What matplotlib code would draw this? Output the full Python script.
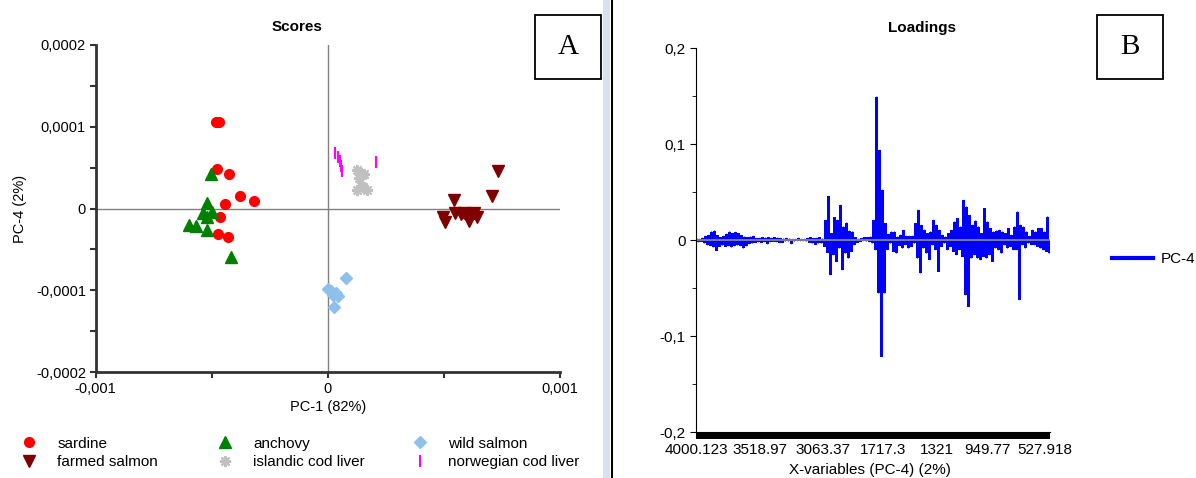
import numpy as np
import matplotlib.pyplot as plt
from matplotlib.patches import Rectangle

plt.rcParams['font.family'] = ['Liberation Sans', 'DejaVu Sans']

# ---- Scores (PC-1 vs PC-4) ----
sardine_pc1 = [-0.000483, -0.000470, -0.000478, -0.000427, -0.000379, -0.000319, -0.000444, -0.000466, -0.000474, -0.000431]
sardine_pc4 = [1.052e-4, 1.052e-4, 0.489e-4, 0.416e-4, 0.147e-4, 0.086e-4, 0.049e-4, -0.110e-4, -0.306e-4, -0.343e-4]

farmed_pc1 = [0.000733, 0.000707, 0.000543, 0.000496, 0.000504, 0.000547, 0.000573, 0.000603, 0.000608, 0.000629, 0.000642, 0.000586]
farmed_pc4 = [0.453e-4, 0.159e-4, 0.098e-4, -0.098e-4, -0.171e-4, -0.049e-4, -0.073e-4, -0.073e-4, -0.159e-4, -0.049e-4, -0.110e-4, -0.049e-4]

anchovy_pc1 = [-0.000504, -0.000522, -0.000539, -0.000522, -0.000500, -0.000599, -0.000569, -0.000522, -0.000418]
anchovy_pc4 = [0.416e-4, 0.073e-4, -0.049e-4, -0.098e-4, -0.037e-4, -0.196e-4, -0.220e-4, -0.257e-4, -0.599e-4]

islandic_pc1 = [0.000125, 0.000142, 0.000155, 0.000134, 0.000147, 0.000125, 0.000151, 0.000168, 0.000142]
islandic_pc4 = [0.465e-4, 0.440e-4, 0.428e-4, 0.379e-4, 0.404e-4, 0.232e-4, 0.257e-4, 0.232e-4, 0.281e-4]

wild_pc1 = [0.0000776, 0.0, 0.0000129, 0.0000216, 0.0000431, 0.0000259, 0.0000345]
wild_pc4 = [-0.856e-4, -0.979e-4, -1.015e-4, -1.052e-4, -1.076e-4, -1.199e-4, -1.028e-4]

norwegian_pc1 = [0.000030, 0.000043, 0.000052, 0.000056, 0.000060, 0.000207]
norwegian_pc4 = [0.685e-4, 0.636e-4, 0.575e-4, 0.514e-4, 0.453e-4, 0.563e-4]

score_xticks = [-0.001, 0, 0.001]
score_xticklabels = ['-0,001', '0', '0,001']
score_yticks = [-0.0002, -0.0001, 0, 0.0001, 0.0002]
score_yticklabels = ['-0,0002', '-0,0001', '0', '0,0001', '0,0002']

# ---- Loadings PC-4 (upper / lower envelope per group of variables) ----
pc4_upper = [
    0.0014, 0.0010, 0.0021, 0.0042, 0.0049, 0.0087, 0.0097, 0.0049, 0.0028, 0.0042,
    0.0062, 0.0087, 0.0069, 0.0083, 0.0069, 0.0049, 0.0035, 0.0028, 0.0035, 0.0042,
    0.0017, 0.0021, 0.0028, 0.0024, 0.0028, 0.0021, 0.0028, 0.0024, 0.0021, 0.0014,
    0.0021, 0.0014, 0.0010, 0.0010, 0.0021, 0.0010, 0.0010, 0.0021, 0.0028, 0.0017,
    0.0021, 0.0028, 0.0014, 0.0208, 0.0458, 0.0069, 0.0236, 0.0208, 0.0364, 0.0139,
    0.0180, 0.0097, 0.0087, 0.0028, 0.0010, 0.0017, 0.0028, 0.0028, 0.0035, 0.0208,
    0.1492, 0.0937, 0.0521, 0.0174, 0.0062, 0.0087, 0.0087, 0.0035, 0.0052, 0.0104,
    0.0042, 0.0042, 0.0042, 0.0174, 0.0312, 0.0156, 0.0104, 0.0069, 0.0087, 0.0208,
    0.0156, 0.0104, 0.0052, 0.0035, 0.0069, 0.0104, 0.0191, 0.0226, 0.0139, 0.0416,
    0.0347, 0.0260, 0.0156, 0.0201, 0.0139, 0.0069, 0.0330, 0.0191, 0.0121, 0.0087,
    0.0097, 0.0104, 0.0087, 0.0069, 0.0121, 0.0052, 0.0139, 0.0295, 0.0156, 0.0139,
    0.0087, 0.0042, 0.0104, 0.0087, 0.0121, 0.0121, 0.0087, 0.0243,
]
pc4_lower = [
    0.0021, 0.0017, 0.0035, 0.0052, 0.0062, 0.0076, 0.0111, 0.0069, 0.0056, 0.0069,
    0.0062, 0.0076, 0.0062, 0.0056, 0.0062, 0.0087, 0.0062, 0.0042, 0.0035, 0.0028,
    0.0021, 0.0028, 0.0021, 0.0042, 0.0021, 0.0017, 0.0021, 0.0028, 0.0028, 0.0014,
    0.0014, 0.0042, 0.0014, 0.0010, 0.0010, 0.0010, 0.0014, 0.0028, 0.0035, 0.0049,
    0.0035, 0.0035, 0.0069, 0.0132, 0.0364, 0.0156, 0.0226, 0.0087, 0.0312, 0.0139,
    0.0191, 0.0121, 0.0052, 0.0028, 0.0017, 0.0010, 0.0014, 0.0021, 0.0035, 0.0104,
    0.0555, 0.1215, 0.0555, 0.0104, 0.0035, 0.0121, 0.0139, 0.0062, 0.0087, 0.0052,
    0.0087, 0.0069, 0.0035, 0.0191, 0.0347, 0.0087, 0.0139, 0.0208, 0.0052, 0.0104,
    0.0330, 0.0069, 0.0035, 0.0104, 0.0069, 0.0121, 0.0156, 0.0104, 0.0174, 0.0573,
    0.0694, 0.0191, 0.0156, 0.0191, 0.0208, 0.0174, 0.0191, 0.0156, 0.0226, 0.0087,
    0.0104, 0.0139, 0.0052, 0.0087, 0.0069, 0.0104, 0.0104, 0.0625, 0.0052, 0.0087,
    0.0035, 0.0052, 0.0052, 0.0069, 0.0087, 0.0104, 0.0121, 0.0139,
]
variable_labels = ['4000.123', '3518.97', '3063.37', '1717.3', '1321', '949.77', '527.918']
variable_label_idx = [0, 42, 84, 124, 160, 194, 232]
loading_yticks = [-0.2, -0.1, 0, 0.1, 0.2]
loading_yticklabels = ['-0,2', '-0,1', '0', '0,1', '0,2']

# interleave upper and lower values -> one loading per variable
pc4_loadings = np.ravel(np.column_stack([pc4_upper, -np.array(pc4_lower)]))
var_idx = np.arange(len(pc4_loadings))

W, H = 1196, 478
fig = plt.figure(figsize=(W / 100, H / 100), dpi=100)

# ---------------- A : scores ----------------
ax1 = fig.add_axes([95.7 / W, 1 - 372 / H, 464.3 / W, 327 / H])
ax1.set_xlim(-0.001, 0.001)
ax1.set_ylim(-0.0002, 0.0002)
ax1.axhline(0, color='#808080', lw=1, zorder=1)
ax1.axvline(0, color='#808080', lw=1, zorder=1)

h_sar, = ax1.plot(sardine_pc1, sardine_pc4, ls='none', marker='o', ms=7, color='#ff0000', label='sardine')
h_far, = ax1.plot(farmed_pc1, farmed_pc4, ls='none', marker='v', ms=8, color='#7f0000', label='farmed salmon')
h_anc, = ax1.plot(anchovy_pc1, anchovy_pc4, ls='none', marker='^', ms=8, color='#008000', label='anchovy')
h_isl, = ax1.plot(islandic_pc1, islandic_pc4, ls='none', marker=(8, 2, 0), ms=8, mew=1.5,
                  color='#c0c0c0', label='islandic cod liver')
h_wil, = ax1.plot(wild_pc1, wild_pc4, ls='none', marker='D', ms=6, color='#8ec0eb', label='wild salmon')
h_nor, = ax1.plot(norwegian_pc1, norwegian_pc4, ls='none', marker='|', ms=9, mew=1.5,
                  color='#ff00ff', label='norwegian cod liver')

for s in ['top', 'right']:
    ax1.spines[s].set_visible(False)
for s in ['left', 'bottom']:
    ax1.spines[s].set_color('#333333')
    ax1.spines[s].set_linewidth(2)
ax1.set_xticks(score_xticks, labels=score_xticklabels)
ax1.set_xticks([-0.0005, 0.0005], minor=True)
ax1.set_yticks(score_yticks, labels=score_yticklabels)
ax1.set_yticks([-0.00015, -0.00005, 0.00005, 0.00015], minor=True)
ax1.tick_params(which='both', direction='out', length=4, width=1.5, color='#333333',
                labelsize=10.5, pad=3)
ax1.set_xlabel('PC-1 (82%)', fontsize=10.5)
ax1.xaxis.set_label_coords(0.5, -0.085)
ax1.set_ylabel('PC-4 (2%)', fontsize=10.5)
ax1.yaxis.set_label_coords(-0.148, 0.5)

fig.text(297 / W, 1 - 27 / H, 'Scores', fontsize=11, weight='bold', ha='center', va='center')

leg_kw = dict(fontsize=11, frameon=False, loc='center left', borderpad=0, borderaxespad=0,
              handlelength=1.5, handletextpad=1.1, labelspacing=0.3, numpoints=1)
fig.legend(handles=[h_sar, h_far], bbox_to_anchor=(17.5 / W, 1 - 453 / H), **leg_kw)
fig.legend(handles=[h_anc, h_isl], bbox_to_anchor=(213.5 / W, 1 - 453 / H), **leg_kw)
fig.legend(handles=[h_wil, h_nor], bbox_to_anchor=(408.5 / W, 1 - 453 / H), **leg_kw)

fig.add_artist(Rectangle((535 / W, 1 - 79 / H), 66 / W, 64 / H, transform=fig.transFigure,
                         fill=False, ec='black', lw=1.3))
fig.text(568 / W, 1 - 47 / H, 'A', family='Liberation Serif', fontsize=21, ha='center', va='center')

# separator between panels
fig.add_artist(Rectangle((603 / W, 0), 7 / W, 1, transform=fig.transFigure, color='#d6e2ef', lw=0))
fig.add_artist(Rectangle((610.5 / W, 0), 2.5 / W, 1, transform=fig.transFigure, color='black', lw=0))

# ---------------- B : loadings ----------------
ax2 = fig.add_axes([696 / W, 1 - 432 / H, 354 / W, 384 / H])
# variables are dense: each bar overlaps its neighbour so +/- parts both fill
ax2.bar(var_idx, pc4_loadings, width=2.0, color='#0000ff', lw=0)
ln, = ax2.plot(var_idx, pc4_loadings, color='#0000ff', lw=0.6, label='PC-4')
ax2.axhline(0, color='#909090', lw=1.2)
ax2.set_xlim(-0.5, len(pc4_loadings) - 0.5)
ax2.set_ylim(-0.2, 0.2)
for s in ['top', 'right']:
    ax2.spines[s].set_visible(False)
ax2.spines['left'].set_color('black')
ax2.spines['bottom'].set_color('black')
ax2.set_yticks(loading_yticks, labels=loading_yticklabels)
ax2.set_yticks([-0.15, -0.05, 0.05, 0.15], minor=True)
ax2.set_xticks(variable_label_idx, labels=variable_labels)
ax2.set_xticks(var_idx, minor=True)
ax2.tick_params(axis='x', which='both', direction='out', length=5, width=1.5, labelsize=11, pad=3)
ax2.tick_params(axis='y', which='major', direction='out', length=4, labelsize=11)
ax2.tick_params(axis='y', which='minor', direction='out', length=3)
ax2.set_xlabel('X-variables (PC-4) (2%)', fontsize=11)
ax2.xaxis.set_label_coords(0.4915, -0.08)

fig.text(922 / W, 1 - 28 / H, 'Loadings', fontsize=11, weight='bold', ha='center', va='center')

leg2 = ax2.legend(handles=[ln], loc='center left', bbox_to_anchor=(1112 / W, 1 - 259 / H),
                  bbox_transform=fig.transFigure, frameon=False, fontsize=11, borderpad=0,
                  borderaxespad=0, handlelength=2.7, handletextpad=0.5)
leg2.get_lines()[0].set_linewidth(3)

fig.add_artist(Rectangle((1097 / W, 1 - 79 / H), 66 / W, 64 / H, transform=fig.transFigure,
                         fill=False, ec='black', lw=1.3))
fig.text(1130 / W, 1 - 47 / H, 'B', family='Liberation Serif', fontsize=21, ha='center', va='center')

fig.savefig('out.png', dpi=100)
